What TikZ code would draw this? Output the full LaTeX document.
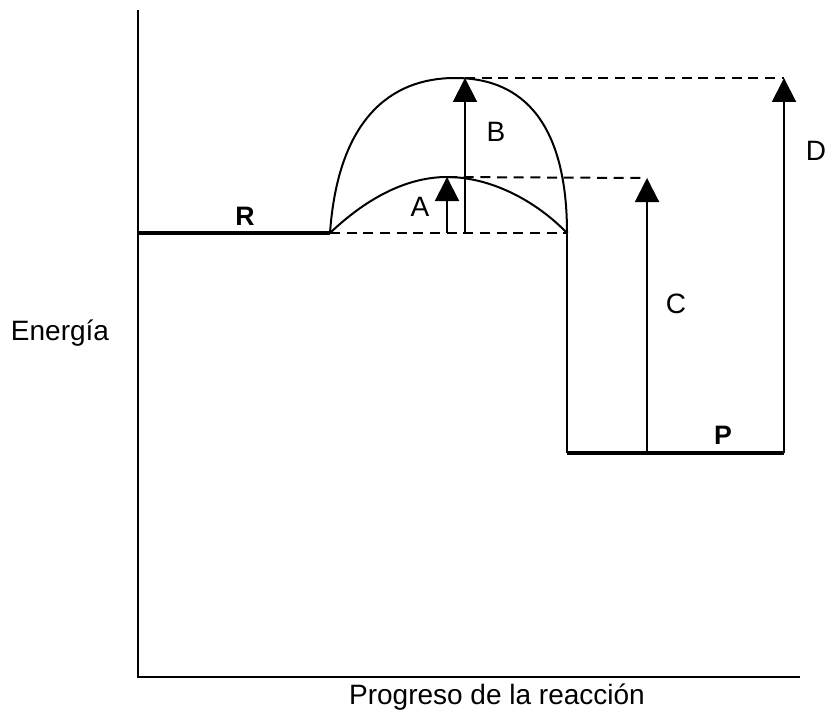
\documentclass[tikz,border=0pt]{standalone}
\usepackage{tikz}
\usepackage{xcolor}
\usepackage{fontspec}
\setmainfont{Liberation Sans}
\usetikzlibrary{arrows.meta}

\tikzset{
    level/.style={line width=3pt},
    curve/.style={line width=1.5pt},
    guide/.style={line width=1.5pt, dash pattern=on 7.5pt off 5pt},
    rise/.style={line width=1.5pt, -{Triangle[length=18pt,width=18pt]}},
    lbl/.style={font=\fontsize{21}{25}\selectfont},
    blbl/.style={font=\fontsize{20}{24}\selectfont\bfseries}
}

\begin{document}
\begin{tikzpicture}[x=0.75pt, y=-0.75pt]
                    \useasboundingbox (0,0) rectangle (827,713);
                    % Axes
                    \coordinate (top) at (138,10);
                    \coordinate (origin) at (138,677);
                    \coordinate (right) at (800,677);
                    \draw[line width=2pt] (top) -- (origin) -- (right);
                    % Key points
                    \coordinate (r0) at (138,233);
                    \coordinate (r1) at (330,233);
                    \coordinate (p0) at (567,233);
                    \coordinate (p1) at (567,453);
                    \coordinate (p2) at (784,453);
                    \coordinate (peakA) at (447,177);
                    \coordinate (peakB) at (465,78);
                    \coordinate (baseA) at (447,233);
                    \coordinate (baseB) at (465,233);
                    \coordinate (baseC) at (647,453);
                    \coordinate (tipC) at (647,178);
                    \coordinate (tipD) at (784,78);
                    % Energy levels
                    \draw[level] (r0) -- (r1);
                    \draw[line width=1.5pt] (p0) -- (p1);
                    \draw[level] (p1) -- (p2);
                    % Reaction paths
                    \draw[curve] (r1) .. controls (370,195) and (410,177) .. (peakA)
                                      .. controls (490,177) and (535,200) .. (p0);
                    \draw[curve] (r1) .. controls (338,120) and (390,78) .. (455,78)
                                      .. controls (535,78) and (567,140) .. (p0);
                    % Guide lines
                    \draw[guide] (r1) -- (p0);
                    \draw[guide] (peakA) -- (tipC);
                    \draw[guide] (peakB) -- (tipD);
                    % Arrows
                    \draw[rise] (baseA) -- (peakA);
                    \draw[rise] (baseB) -- (peakB);
                    \draw[rise] (baseC) -- (tipC);
                    \draw[rise] (p2) -- (tipD);
                    % Labels
                    \node[blbl] (labR) at (245,216) {R};
                    \node[blbl] (labP) at (723,435) {P};
                    \node[lbl] (labA) at (420,207) {A};
                    \node[lbl] (labB) at (496,132) {B};
                    \node[lbl] (labC) at (676,304) {C};
                    \node[lbl] (labD) at (816,151) {D};
                    \node[lbl] (yname) at (60,333) {Energía};
                    \node[lbl] (xname) at (497,697) {Progreso de la reacción};
                \end{tikzpicture}
\end{document}
